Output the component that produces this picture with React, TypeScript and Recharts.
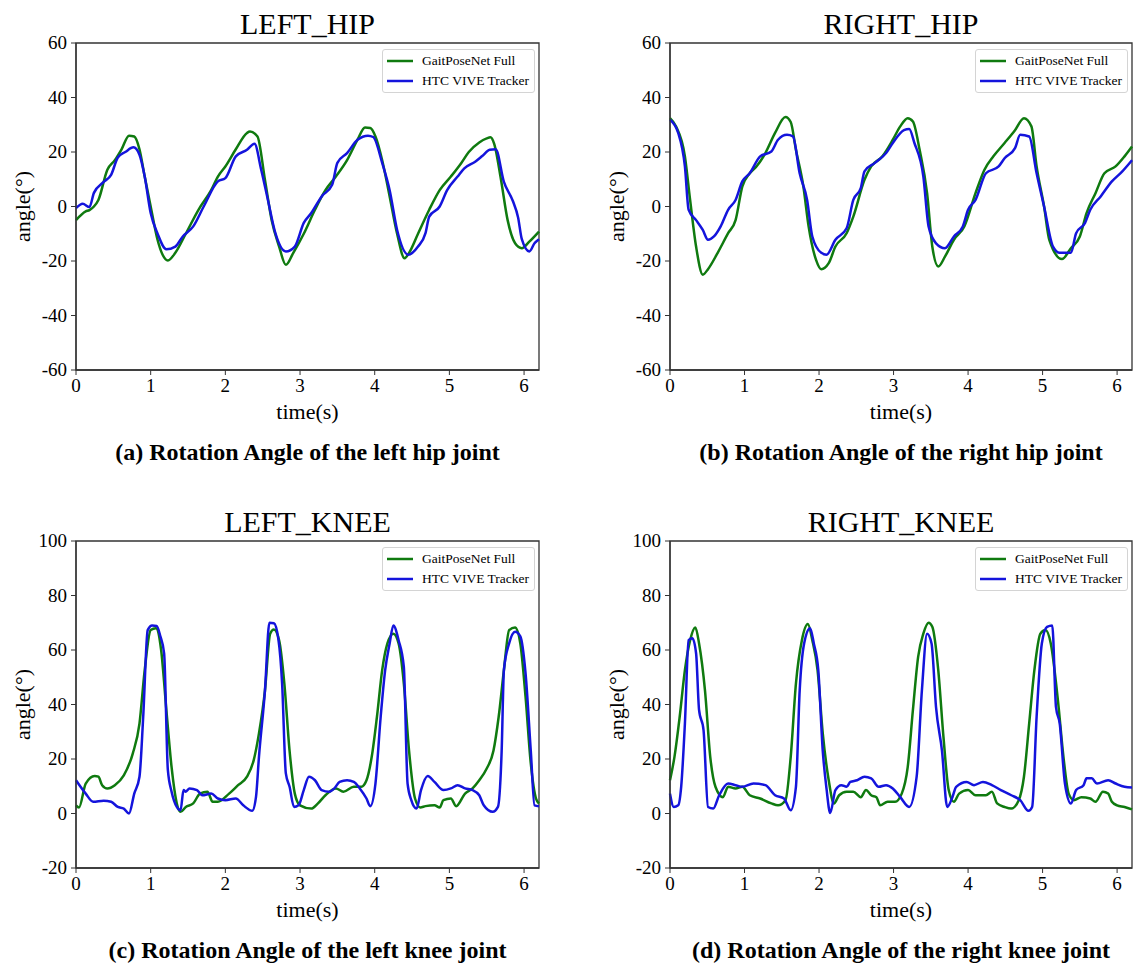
import { LineChart, Line, XAxis, YAxis, ReferenceArea } from 'recharts'

const serif = '"Liberation Serif", "Times New Roman", serif'
const netColor = '#0f7a0f'
const viveColor = '#1414dc'

const timeTicks = [0, 1, 2, 3, 4, 5, 6]
const hipTicks = [-60, -40, -20, 0, 20, 40, 60]
const kneeTicks = [-20, 0, 20, 40, 60, 80, 100]

// [time (s), angle (deg)]
const leftHipNet = [
  [0, -5], [0.13, -1.8], [0.18, -1.3], [0.24, 0], [0.3, 2.4], [0.42, 13.5], [0.52, 17], [0.61, 21], [0.71, 26], [0.78, 25.7],
  [0.85, 21], [0.92, 11], [1.0, 0], [1.09, -12], [1.16, -17.7], [1.23, -19.8], [1.33, -17], [1.47, -10], [1.64, -1.2], [1.81, 6],
  [1.9, 11], [2.0, 14.7], [2.14, 21], [2.29, 27], [2.33, 27.5], [2.43, 25.7], [2.53, 9.8], [2.62, -5], [2.72, -14.7], [2.81, -21.4],
  [2.91, -17], [3.05, -10], [3.2, -1.2], [3.34, 6], [3.48, 11], [3.63, 17], [3.77, 24.5], [3.87, 29], [3.94, 28.8], [4.01, 25.7],
  [4.1, 17], [4.2, 3.7], [4.3, -10], [4.4, -19], [4.46, -17], [4.58, -10], [4.73, -1.2], [4.87, 6], [5.02, 11], [5.16, 16],
  [5.26, 20], [5.4, 23.5], [5.5, 25], [5.55, 25.4], [5.6, 23], [5.69, 10], [5.78, -5], [5.88, -13.5], [5.97, -15.3], [6.07, -12.9],
  [6.2, -9.2],
]
const leftHipVive = [
  [0, -0.6], [0.09, 1], [0.18, -0.2], [0.24, 5], [0.37, 9], [0.47, 11.6], [0.56, 18], [0.66, 20], [0.77, 21.7], [0.85, 19],
  [0.92, 11], [1.0, -2.4], [1.09, -9.8], [1.21, -15.7], [1.33, -14.7], [1.43, -11], [1.57, -7.3], [1.71, 0], [1.9, 9.2], [2.0, 10.4],
  [2.14, 18.4], [2.29, 20.8], [2.39, 23], [2.48, 13.5], [2.57, 2.4], [2.67, -9.8], [2.81, -16.5], [2.93, -14.7], [3.05, -6], [3.15, -2.4],
  [3.29, 3.7], [3.43, 8], [3.5, 16], [3.63, 19.6], [3.77, 24.5], [3.91, 26], [3.98, 25.5], [4.1, 16], [4.2, 6], [4.3, -8.6],
  [4.45, -17.7], [4.58, -14.7], [4.68, -9.8], [4.73, -3.7], [4.87, 0], [4.97, 6], [5.11, 11], [5.2, 14], [5.35, 16.5], [5.44, 18.5],
  [5.54, 20.8], [5.62, 21], [5.73, 9], [5.85, 2], [5.92, -4], [5.97, -12], [6.07, -16.5], [6.14, -13.5], [6.2, -12],
]

const rightHipNet = [
  [0, 32.4], [0.08, 29.4], [0.2, 18.4], [0.27, 2.4], [0.35, -14.7], [0.44, -25], [0.51, -23], [0.64, -17], [0.78, -9.8], [0.88, -5],
  [0.97, 7.3], [1.07, 12.2], [1.16, 14.7], [1.28, 19.6], [1.41, 27], [1.55, 32.8], [1.62, 31], [1.69, 20.8], [1.79, 7.3], [1.86, -7.3],
  [1.96, -19.6], [2.03, -23], [2.13, -20.8], [2.22, -14.7], [2.37, -9.8], [2.46, -3.7], [2.61, 9.8], [2.7, 14.7], [2.85, 18.4], [2.99, 24.5],
  [3.09, 29.4], [3.19, 32.4], [3.26, 31.2], [3.35, 20.8], [3.45, 4.9], [3.52, -14.7], [3.6, -22], [3.69, -18.4], [3.81, -12.2], [3.95, -7.3],
  [4.1, 4.9], [4.22, 13.5], [4.34, 18.4], [4.49, 23.3], [4.63, 28], [4.75, 32.4], [4.85, 29.4], [4.92, 14.7], [5.02, 0], [5.09, -12.2],
  [5.26, -19.3], [5.38, -15.3], [5.5, -11], [5.59, -2.4], [5.71, 4.9], [5.83, 12.2], [5.98, 14.7], [6.1, 18.4], [6.2, 22],
]
const rightHipVive = [
  [0, 31.8], [0.11, 27], [0.2, 14.7], [0.25, -1.2], [0.35, -5], [0.44, -8.6], [0.51, -12.2], [0.59, -11], [0.68, -7.3], [0.78, -1.2],
  [0.88, 2.4], [0.97, 9.2], [1.07, 12.2], [1.21, 18.4], [1.36, 20.2], [1.45, 24.5], [1.57, 26.3], [1.65, 25.7], [1.74, 12.2], [1.84, 2.4],
  [1.91, -11], [2.03, -17], [2.1, -17.7], [2.22, -12.2], [2.37, -8], [2.46, 2.4], [2.56, 6.7], [2.61, 12.9], [2.75, 16], [2.9, 19.6],
  [2.99, 23.3], [3.14, 28], [3.21, 28.4], [3.28, 23.3], [3.4, 11], [3.47, -7.3], [3.57, -13.5], [3.69, -15.3], [3.81, -11], [3.93, -7.3],
  [4.0, -1.2], [4.1, 2.4], [4.24, 12.2], [4.41, 14.7], [4.49, 17.7], [4.63, 21.4], [4.7, 26.3], [4.82, 25.7], [4.92, 12.2], [5.02, 0],
  [5.14, -14.7], [5.23, -17], [5.38, -17], [5.45, -9.8], [5.57, -6], [5.64, -1.2], [5.78, 3.7], [5.93, 9.2], [6.07, 12.9], [6.2, 17],
]

const leftKneeNet = [
  [0, 3], [0.04, 2.2], [0.13, 11], [0.25, 13.8], [0.3, 13.5], [0.35, 10.4], [0.42, 9.2], [0.52, 10.4], [0.64, 14], [0.76, 22],
  [0.85, 33], [0.92, 52.6], [1.0, 67.3], [1.07, 68], [1.14, 60], [1.21, 38], [1.28, 17], [1.35, 3.7], [1.4, 0.6], [1.47, 2.4],
  [1.57, 3.7], [1.66, 7.3], [1.76, 8], [1.83, 4.3], [1.9, 4.3], [2.05, 7.3], [2.17, 10.4], [2.29, 13.5], [2.38, 19.6], [2.45, 29.4],
  [2.53, 45], [2.6, 66], [2.65, 67.5], [2.72, 63.6], [2.79, 47.7], [2.86, 23], [2.93, 7.3], [3.0, 3], [3.15, 1.8], [3.24, 3.7],
  [3.34, 6.7], [3.48, 9.2], [3.58, 8], [3.72, 9.8], [3.82, 9.8], [3.89, 12.2], [3.96, 20.8], [4.03, 35.5], [4.1, 52.6], [4.17, 62.4],
  [4.25, 66], [4.32, 62.4], [4.39, 47.7], [4.46, 23], [4.54, 5.5], [4.61, 2.2], [4.68, 2.7], [4.8, 3], [4.87, 2.2], [4.92, 4.9],
  [5.02, 5.5], [5.09, 2.7], [5.21, 7.3], [5.31, 9.2], [5.4, 12.2], [5.5, 16.5], [5.59, 23], [5.66, 35.5], [5.73, 52.6], [5.8, 67.3],
  [5.88, 68.3], [5.95, 62.4], [6.02, 42.8], [6.09, 18.4], [6.16, 5.5], [6.2, 3.7],
]
const leftKneeVive = [
  [0, 12.2], [0.13, 7.3], [0.23, 4.3], [0.37, 4.7], [0.47, 4.3], [0.56, 2.4], [0.64, 1.8], [0.71, 0], [0.78, 7.3], [0.85, 13.5],
  [0.9, 35.5], [0.96, 67.3], [1.02, 69], [1.08, 68.8], [1.13, 65], [1.18, 58.8], [1.23, 16], [1.28, 8], [1.35, 2.4], [1.4, 1.2],
  [1.44, 8.6], [1.47, 8], [1.52, 9.2], [1.62, 8.6], [1.69, 6.7], [1.81, 7.3], [1.9, 5.5], [2.0, 4.9], [2.14, 5.5], [2.24, 3],
  [2.36, 1], [2.41, 6], [2.45, 20.8], [2.53, 45], [2.59, 70], [2.65, 69.8], [2.71, 64], [2.76, 47.7], [2.81, 14.7], [2.86, 9.8],
  [2.92, 2.4], [2.98, 3], [3.05, 8.6], [3.12, 13.5], [3.2, 12.2], [3.29, 8.6], [3.39, 8], [3.46, 9.2], [3.53, 11.6], [3.63, 12.2],
  [3.72, 11.6], [3.8, 9.2], [3.89, 5.5], [3.94, 2.7], [4.01, 11], [4.08, 35.5], [4.14, 52.6], [4.2, 62.4], [4.25, 69], [4.32, 63.6],
  [4.39, 53.8], [4.44, 11], [4.49, 4.9], [4.56, 1.8], [4.62, 8.6], [4.71, 13.8], [4.8, 11.6], [4.92, 8.6], [5.02, 9.2], [5.11, 10.4],
  [5.21, 9.2], [5.31, 8.6], [5.4, 6.7], [5.46, 3], [5.58, 0.6], [5.65, 2.4], [5.7, 23], [5.73, 52.6], [5.8, 62.4], [5.88, 66.7],
  [5.95, 65], [6.02, 51.4], [6.09, 23], [6.14, 3], [6.2, 2.7],
]

const rightKneeNet = [
  [0, 12.2], [0.06, 20.8], [0.13, 35.5], [0.2, 52.6], [0.27, 63.6], [0.34, 68.3], [0.39, 62.4], [0.47, 45], [0.54, 20.8], [0.61, 9.8],
  [0.71, 6], [0.78, 9.8], [0.88, 9.2], [0.97, 9.8], [1.07, 6.7], [1.21, 5.5], [1.36, 3.7], [1.45, 3], [1.55, 4.9], [1.62, 20.8],
  [1.69, 47.7], [1.77, 63.6], [1.85, 69.5], [1.91, 63.6], [1.98, 52.6], [2.05, 29.4], [2.13, 12.2], [2.2, 3.7], [2.27, 6.7], [2.37, 8],
  [2.46, 8], [2.56, 6], [2.63, 8.6], [2.7, 6.7], [2.77, 6], [2.82, 3], [2.92, 4.3], [3.02, 4.3], [3.11, 7.3], [3.19, 17],
  [3.26, 38], [3.33, 57.5], [3.4, 66], [3.47, 70], [3.52, 68.5], [3.6, 52.6], [3.67, 28], [3.74, 8.6], [3.81, 4.3], [3.88, 7.3],
  [4.0, 8.6], [4.1, 6.7], [4.24, 6.7], [4.32, 8], [4.39, 3.7], [4.49, 2.4], [4.58, 1.8], [4.68, 4.9], [4.75, 13.5], [4.82, 33],
  [4.89, 52.6], [4.97, 66], [5.04, 67.3], [5.11, 62.4], [5.21, 40.4], [5.28, 20.8], [5.35, 7.3], [5.42, 4.9], [5.52, 6], [5.64, 5.5],
  [5.71, 4.3], [5.81, 8], [5.88, 7.3], [5.93, 4.3], [6.0, 3], [6.1, 2.4], [6.2, 1.5],
]
const rightKneeVive = [
  [0, 7.3], [0.05, 2.4], [0.11, 3], [0.15, 9.8], [0.2, 33], [0.25, 63.6], [0.3, 64.3], [0.35, 58.8], [0.39, 38], [0.45, 30.6],
  [0.51, 2.4], [0.58, 1.8], [0.66, 6.7], [0.78, 11], [0.88, 10.4], [0.97, 9.8], [1.12, 11], [1.28, 10.4], [1.41, 6.7], [1.53, 5.5],
  [1.62, 1.2], [1.69, 9.8], [1.74, 45], [1.8, 62.4], [1.88, 68], [1.93, 62.4], [1.99, 52.6], [2.05, 23], [2.1, 9.2], [2.15, 0.2],
  [2.22, 8.6], [2.3, 10.4], [2.37, 9.8], [2.42, 11.6], [2.51, 12.2], [2.61, 13.5], [2.7, 12.9], [2.8, 9.8], [2.9, 10.4], [2.99, 9.2],
  [3.09, 6], [3.21, 2.4], [3.31, 13.5], [3.38, 45], [3.45, 66], [3.51, 62.4], [3.57, 39], [3.65, 23], [3.72, 2.4], [3.79, 6],
  [3.84, 9.8], [3.98, 11.6], [4.08, 10.4], [4.2, 11.6], [4.32, 10.4], [4.44, 8.6], [4.58, 6.7], [4.7, 4.9], [4.81, 1], [4.86, 2.4],
  [4.92, 35.5], [4.99, 62.4], [5.06, 68.5], [5.13, 69], [5.18, 39], [5.23, 33], [5.3, 11], [5.38, 3.7], [5.45, 8.6], [5.55, 10.4],
  [5.59, 12.9], [5.66, 12.9], [5.73, 11], [5.88, 12.2], [5.98, 11], [6.1, 9.8], [6.2, 9.5],
]

const rows = (pts: number[][]) => pts.map(([t, v]) => ({ t, v }))

const MARGIN_TOP = 43
const MARGIN_LEFT = 20
const Y_AXIS_W = 56
const PLOT_H = 327
const X_AXIS_H = 60

const tickTextStyle = { fontFamily: serif, fontSize: 19, fill: '#000' }

const renderXTick = (props: any) => (
  <text x={props.x} y={props.y} dy="0.71em" textAnchor="middle" style={tickTextStyle}>
    {props.payload.value}
  </text>
)
const renderYTick = (props: any) => (
  <text x={props.x} y={props.y} dy="0.34em" textAnchor="end" style={tickTextStyle}>
    {props.payload.value}
  </text>
)

interface PanelProps {
  x: number
  y: number
  width: number
  marginRight: number
  title: string
  caption: string
  yTicks: number[]
  net: number[][]
  vive: number[][]
}

function Panel({ x, y, width, marginRight, title, caption, yTicks, net, vive }: PanelProps) {
  const plotLeft = x + MARGIN_LEFT + Y_AXIS_W
  const plotW = width - MARGIN_LEFT - Y_AXIS_W - marginRight
  const plotTop = y + MARGIN_TOP
  const yMin = yTicks[0]
  const yMax = yTicks[yTicks.length - 1]

  return (
    <>
      <div
        style={{
          position: 'absolute', left: plotLeft, top: plotTop - 34, width: plotW,
          textAlign: 'center', fontSize: 30, lineHeight: '30px', color: '#000',
        }}
      >
        {title}
      </div>
      <div style={{ position: 'absolute', left: x, top: y }}>
        <LineChart
          width={width}
          height={MARGIN_TOP + PLOT_H + X_AXIS_H}
          margin={{ top: MARGIN_TOP, left: MARGIN_LEFT, right: marginRight, bottom: 0 }}
        >
          <XAxis
            type="number"
            dataKey="t"
            domain={[0, 6.2]}
            ticks={timeTicks}
            height={X_AXIS_H}
            tickSize={5}
            tickMargin={4}
            tick={renderXTick}
            axisLine={{ stroke: '#333', strokeWidth: 1.3 }}
            tickLine={{ stroke: '#333' }}
            label={{ value: 'time(s)', position: 'insideBottom', offset: 11, fontSize: 22, fill: '#000', fontFamily: serif }}
          />
          <YAxis
            type="number"
            domain={[yMin, yMax]}
            ticks={yTicks}
            width={Y_AXIS_W}
            tickSize={5}
            tickMargin={4}
            tick={renderYTick}
            axisLine={{ stroke: '#333', strokeWidth: 1.3 }}
            tickLine={{ stroke: '#333' }}
            label={{
              value: 'angle(°)', angle: -90, position: 'insideLeft', offset: 2,
              fontSize: 22, fill: '#000', fontFamily: serif, style: { textAnchor: 'middle' },
            }}
          />
          <Line data={rows(net)} dataKey="v" type="monotone" stroke={netColor} strokeWidth={2.5} dot={false} isAnimationActive={false} />
          <Line data={rows(vive)} dataKey="v" type="monotone" stroke={viveColor} strokeWidth={2.5} dot={false} isAnimationActive={false} />
          <ReferenceArea x1={0} x2={6.2} y1={yMin} y2={yMax} fill="none" stroke="#333" strokeWidth={1.3} ifOverflow="visible" />
        </LineChart>
      </div>
      <div
        style={{
          position: 'absolute', left: plotLeft + plotW - 157, top: plotTop + 6, width: 153, height: 44,
          boxSizing: 'border-box', border: '1px solid #d4d4d4', borderRadius: 3, background: '#fff',
          fontSize: 13.5, lineHeight: '20px', color: '#000', paddingTop: 1,
        }}
      >
        {[['GaitPoseNet Full', netColor], ['HTC VIVE Tracker', viveColor]].map(([name, c]) => (
          <div key={name} style={{ display: 'flex', alignItems: 'center', height: 20 }}>
            <svg width={35} height={20} style={{ marginLeft: 4 }}>
              <line x1={0} x2={26} y1={10} y2={10} stroke={c} strokeWidth={2.5} />
            </svg>
            <span style={{ whiteSpace: 'nowrap' }}>{name}</span>
          </div>
        ))}
      </div>
      <div
        style={{
          position: 'absolute', left: plotLeft - 40, top: plotTop + 397, width: plotW + 80,
          textAlign: 'center', fontSize: 24, lineHeight: '24px', fontWeight: 'bold', color: '#000',
        }}
      >
        {caption}
      </div>
    </>
  )
}

export default function App() {
  return (
    <div style={{ position: 'relative', width: 1133, height: 963, background: '#fff', fontFamily: serif, overflow: 'hidden' }}>
      <style>{'body{margin:0}'}</style>
      <Panel x={0} y={0} width={566} marginRight={27} title="LEFT_HIP"
        caption="(a) Rotation Angle of the left hip joint" yTicks={hipTicks} net={leftHipNet} vive={leftHipVive} />
      <Panel x={594} y={0} width={539} marginRight={1} title="RIGHT_HIP"
        caption="(b) Rotation Angle of the right hip joint" yTicks={hipTicks} net={rightHipNet} vive={rightHipVive} />
      <Panel x={0} y={498} width={566} marginRight={27} title="LEFT_KNEE"
        caption="(c) Rotation Angle of the left knee joint" yTicks={kneeTicks} net={leftKneeNet} vive={leftKneeVive} />
      <Panel x={594} y={498} width={539} marginRight={1} title="RIGHT_KNEE"
        caption="(d) Rotation Angle of the right knee joint" yTicks={kneeTicks} net={rightKneeNet} vive={rightKneeVive} />
    </div>
  )
}
